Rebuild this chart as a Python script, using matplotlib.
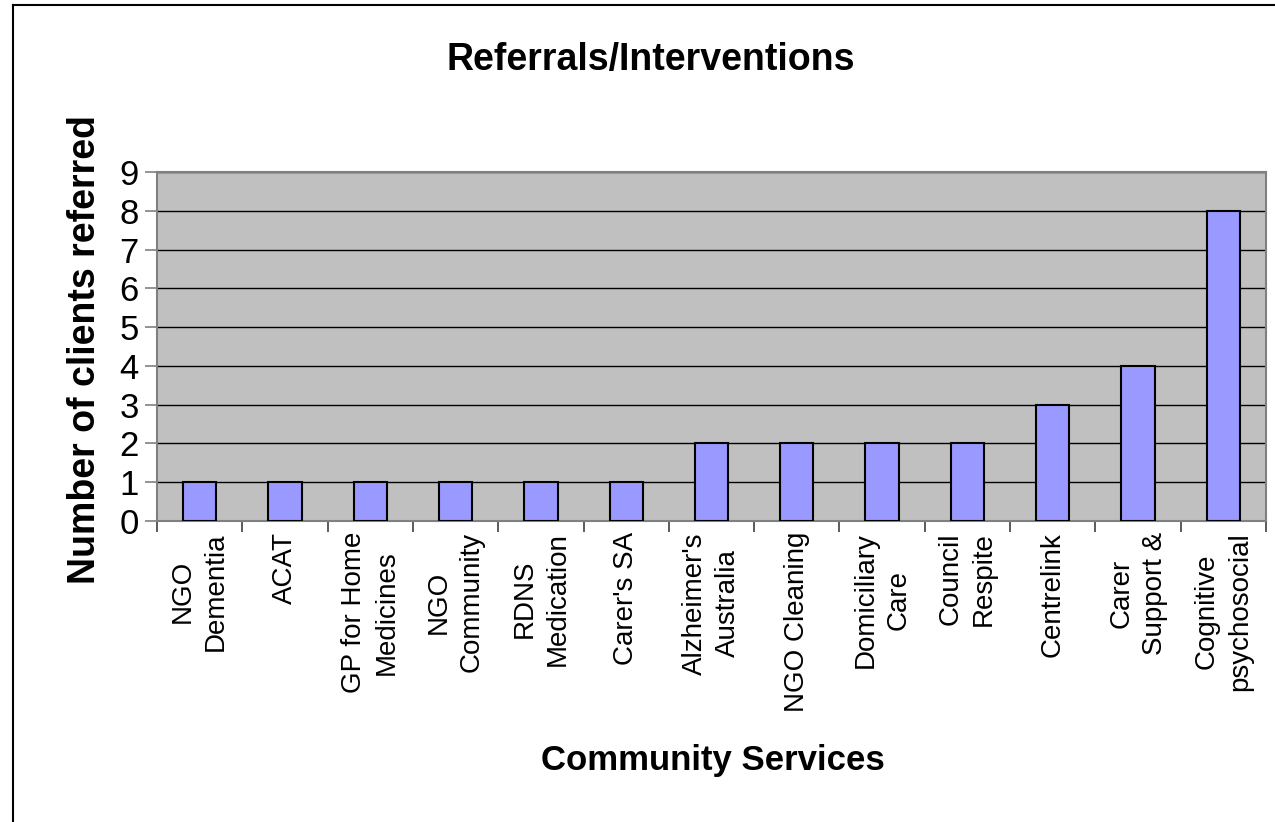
import matplotlib
matplotlib.use("Agg")
import matplotlib.pyplot as plt
import numpy as np

plt.rcParams['font.family'] = ['Liberation Sans', 'DejaVu Sans']

categories = ["NGO\nDementia", "ACAT", "GP for Home\nMedicines", "NGO\nCommunity",
              "RDNS\nMedication", "Carer's SA", "Alzheimer's\nAustralia", "NGO Cleaning",
              "Domiciliary\nCare", "Council\nRespite", "Centrelink", "Carer\nSupport &",
              "Cognitive\npsychosocial"]
values = [1, 1, 1, 1, 1, 1, 2, 2, 2, 2, 3, 4, 8]
yticks = list(range(0, 10))

fig = plt.figure(figsize=(12.75, 8.22), dpi=100)
W, H = 1275, 822
ax = fig.add_axes([157 / W, 1 - 521 / H, (1266 - 157) / W, (521 - 172) / H])
ax.set_facecolor('#C0C0C0')

x = np.arange(len(categories))
ax.bar(x, values, width=0.39, color='#9999FF', edgecolor='black', linewidth=1.5, zorder=3)
ax.set_xlim(-0.5, len(categories) - 0.5)
ax.set_ylim(0, 9)
ax.set_yticks(yticks)
ax.set_yticklabels([str(t) for t in yticks], fontsize=25)
ax.yaxis.grid(True, color='black', linewidth=1.0, zorder=1)
ax.set_axisbelow(True)
for s in ax.spines.values():
    s.set_color('#808080')
    s.set_linewidth(1.5)
ax.tick_params(axis='y', length=9, width=1.2, color='#808080', pad=4)

ax.set_xticks(np.arange(-0.5, len(categories), 1.0), minor=False)
ax.set_xticklabels([])
ax.tick_params(axis='x', which='major', length=8, width=1.2, color='#404040', direction='out')
ax.set_xticks(x, minor=True)
ax.set_xticklabels(categories, minor=True, rotation=90, fontsize=20,
                   ha='center', va='top', multialignment='center', linespacing=1.35)
ax.tick_params(axis='x', which='minor', length=0, pad=8)

fig.text(651 / W, 1 - 60 / H, "Referrals/Interventions", fontsize=27, fontweight='bold',
         ha='center', va='center')
fig.text(713 / W, 1 - 760 / H, "Community Services", fontsize=25, fontweight='bold',
         ha='center', va='center')
fig.text(85 / W, 1 - 350 / H, "Number of clients referred", fontsize=27, fontweight='bold',
         ha='center', va='center', rotation=90)

# figure frame (left and top visible)
fig.add_artist(plt.Line2D([13 / W, 13 / W], [0, 1 - 5 / H], transform=fig.transFigure,
                          color='black', linewidth=1.5))
fig.add_artist(plt.Line2D([13 / W, 1], [1 - 5 / H, 1 - 5 / H], transform=fig.transFigure,
                          color='black', linewidth=1.5))

fig.savefig("out.png", dpi=100)
